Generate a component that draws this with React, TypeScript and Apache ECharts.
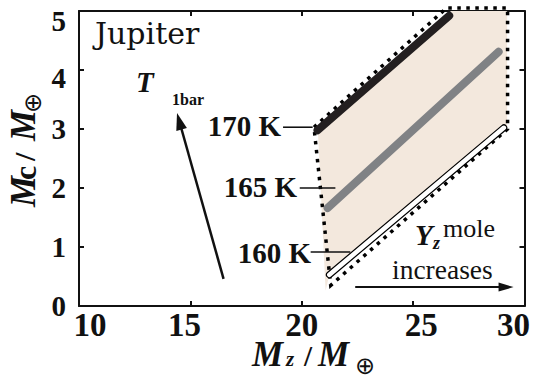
import { useEffect, useRef } from 'react';
import * as echarts from 'echarts';

// ---- data (x = Mz / M_earth, y = Mc / M_earth) ----
const xTicks = [10, 15, 20, 25, 30];
const yTicks = [0, 1, 2, 3, 4, 5];

const line170K: number[][] = [[20.71, 2.98], [26.62, 4.92]];
const line165K: number[][] = [[21.16, 1.66], [28.84, 4.31]];
const line160K: number[][] = [[21.24, 0.53], [29.07, 3.02]];

const regionFill: number[][] = [
  [20.72, 3.0], [26.7, 5.0], [29.22, 5.0], [29.22, 3.03], [21.24, 0.53], [21.07, 0.26],
];
const regionOutline: number[][] = [
  [20.55, 3.03], [26.5, 5.05], [29.24, 5.05], [29.24, 3.0], [21.3, 0.35], [20.55, 3.03],
];

const leader170: number[][] = [[19.16, 3.03], [20.49, 3.03]];
const leader165: number[][] = [[19.91, 2.0], [21.51, 2.0]];
const leader160: number[][] = [[20.4, 0.915], [22.18, 0.915]];

const tempArrow: number[][] = [[16.49, 0.46], [14.4, 3.27]];
const yzArrow: number[][] = [[22.4, 0.32], [29.51, 0.32]];

const tempLabels = ['170 K', '165 K', '160 K'];

const INK = '#111111';
const FILL = '#f3e8dd';
const GRAY = '#808285';
const BLACK = '#231f20';
const SERIF = 'Liberation Serif';

const xLabelShift: Record<number, number> = { 10: 11, 15: -6, 20: 0, 25: 8, 30: -11 };
const yLabelShift: Record<number, number> = { 5: 10, 4: 8 };

function buildOption(): any {
  const axisLine = { show: true, onZero: false, lineStyle: { color: INK, width: 2 } };
  const axisTick = { show: true, inside: true, length: 5, lineStyle: { color: INK, width: 2 } };
  const xFont = { fontFamily: SERIF, fontWeight: 'bold', fontSize: 33, color: INK };
  const yFont = { fontFamily: SERIF, fontWeight: 'bold', fontSize: 29, color: INK };
  const xRich: any = {};
  xTicks.forEach((v) => {
    const s = xLabelShift[v] || 0;
    xRich['x' + v] = { ...xFont, padding: s >= 0 ? [0, 0, 0, 2 * s] : [0, -2 * s, 0, 0] };
  });
  const yRich: any = {};
  yTicks.forEach((v) => {
    const s = yLabelShift[v] || 0;
    yRich['y' + v] = { ...yFont, padding: [2 * s, 0, 0, 0] };
  });
  const lineSeries = (data: number[][], color: string, width: number, extra: any = {}) => ({
    type: 'line',
    data,
    symbol: 'none',
    showSymbol: false,
    silent: true,
    clip: false,
    lineStyle: { color, width, cap: 'round', ...extra },
  });
  return {
    animation: false,
    backgroundColor: '#ffffff',
    grid: { left: 79, right: 4, top: 11, bottom: 78, containLabel: false },
    xAxis: [
      {
        type: 'value', min: 10, max: 30, interval: 5, position: 'bottom',
        axisLine, axisTick, splitLine: { show: false },
        axisLabel: {
          ...xFont, margin: 2,
          formatter: (v: number) => `{x${v}|${v}}`,
          rich: xRich,
        },
      },
      {
        type: 'value', min: 10, max: 30, interval: 5, position: 'top',
        axisLine, axisTick, splitLine: { show: false }, axisLabel: { show: false },
      },
    ],
    yAxis: [
      {
        type: 'value', min: 0, max: 5, interval: 1, position: 'left',
        axisLine, axisTick, splitLine: { show: false },
        axisLabel: {
          ...yFont, margin: 13,
          formatter: (v: number) => `{y${v}|${v}}`,
          rich: yRich,
        },
      },
      {
        type: 'value', min: 0, max: 5, interval: 1, position: 'right',
        axisLine, axisTick, splitLine: { show: false }, axisLabel: { show: false },
      },
    ],
    series: [
      {
        type: 'custom',
        silent: true,
        data: regionFill,
        encode: { x: 0, y: 1 },
        renderItem: (params: any, api: any) => {
          if (params.dataIndex !== 0) return null;
          const pts = regionFill.map((p) => api.coord(p));
          return { type: 'polygon', shape: { points: pts }, style: { fill: FILL } };
        },
      },
      lineSeries(regionOutline, '#000000', 3.5, { type: [3.5, 5.5], cap: 'butt', join: 'miter' }),
      lineSeries(line170K, BLACK, 8),
      lineSeries(line165K, GRAY, 8),
      lineSeries(line160K, '#000000', 7),
      lineSeries(line160K, '#ffffff', 4.6),
      lineSeries(leader170, INK, 1.6, { cap: 'butt' }),
      lineSeries(leader165, INK, 1.6, { cap: 'butt' }),
      lineSeries(leader160, INK, 1.6, { cap: 'butt' }),
    ],
  };
}

type TOpt = { family?: string; weight?: string; italic?: boolean; align?: string };
const txt = (text: string, x: number, y: number, size: number, o: TOpt = {}) => ({
  type: 'text',
  x,
  y,
  silent: true,
  z: 100,
  style: {
    text,
    fontSize: size,
    fontFamily: o.family || SERIF,
    fontWeight: o.weight || 'normal',
    fontStyle: o.italic ? 'italic' : 'normal',
    fill: INK,
    align: o.align || 'left',
    verticalAlign: 'middle',
    textAlign: o.align || 'left',
    textVerticalAlign: 'middle',
  },
});

export default function App() {
  const ref = useRef<HTMLDivElement>(null);
  useEffect(() => {
    document.body.style.margin = '0';
    const chart = echarts.init(ref.current!, null, { renderer: 'svg' });
    chart.setOption(buildOption());

    const toPx = (p: number[]) => chart.convertToPixel({ seriesIndex: 2 }, p) as number[];
    const arrow = (pts: number[][], len: number, hw: number, w: number) => {
      const a = toPx(pts[0]);
      const b = toPx(pts[1]);
      const dx = b[0] - a[0];
      const dy = b[1] - a[1];
      const L = Math.hypot(dx, dy);
      const ux = dx / L;
      const uy = dy / L;
      const bx = b[0] - ux * len;
      const by = b[1] - uy * len;
      const nx = -uy;
      const ny = ux;
      return [
        {
          type: 'line', silent: true, z: 90,
          shape: { x1: a[0], y1: a[1], x2: bx + ux * 2, y2: by + uy * 2 },
          style: { stroke: INK, lineWidth: w },
        },
        {
          type: 'polygon', silent: true, z: 91,
          shape: { points: [[b[0], b[1]], [bx + nx * hw, by + ny * hw], [bx - nx * hw, by - ny * hw]] },
          style: { fill: INK },
        },
      ];
    };

    const BI: TOpt = { weight: 'bold', italic: true };
    const B: TOpt = { weight: 'bold' };
    const elements: any[] = [
      txt('Jupiter', 95, 33.5, 30, { family: 'DejaVu Serif' }),
      txt('T', 136, 82, 29, BI),
      txt('1bar', 172, 99, 16, B),
      txt(tempLabels[0], 281, 126, 29, { ...B, align: 'right' }),
      txt(tempLabels[1], 297, 187, 29, { ...B, align: 'right' }),
      txt(tempLabels[2], 311, 253, 29, { ...B, align: 'right' }),
      txt('Y', 415, 235, 29, BI),
      txt('z', 433, 243, 18, BI),
      txt('mole', 443, 228, 26),
      txt('increases', 392, 269.5, 27.5),
      // x-axis title
      txt('M', 252, 354, 35, BI),
      txt('z', 286, 358.5, 21, BI),
      txt('/', 304, 356, 29, B),
      txt('M', 318, 354, 35, BI),
      txt('\u2295', 365, 366, 24, { family: 'DejaVu Sans', align: 'center' }),
      // y-axis title (rotated)
      {
        type: 'group',
        x: 35,
        y: 207,
        rotation: Math.PI / 2,
        silent: true,
        children: [
          txt('M', 0, -11.8, 35, BI),
          txt('c', 27, -10.5, 32, B),
          txt('/', 46, -11, 30, B),
          txt('M', 66, -11.8, 35, BI),
          txt('\u2295', 104, -2, 24, { family: 'DejaVu Sans', align: 'center' }),
        ],
      },
      ...arrow(tempArrow, 17, 5.5, 2.5),
      ...arrow(yzArrow, 15, 4.5, 2),
    ];
    chart.setOption({ graphic: { elements } });
    return () => chart.dispose();
  }, []);
  return <div ref={ref} style={{ width: 533, height: 384 }} />;
}
